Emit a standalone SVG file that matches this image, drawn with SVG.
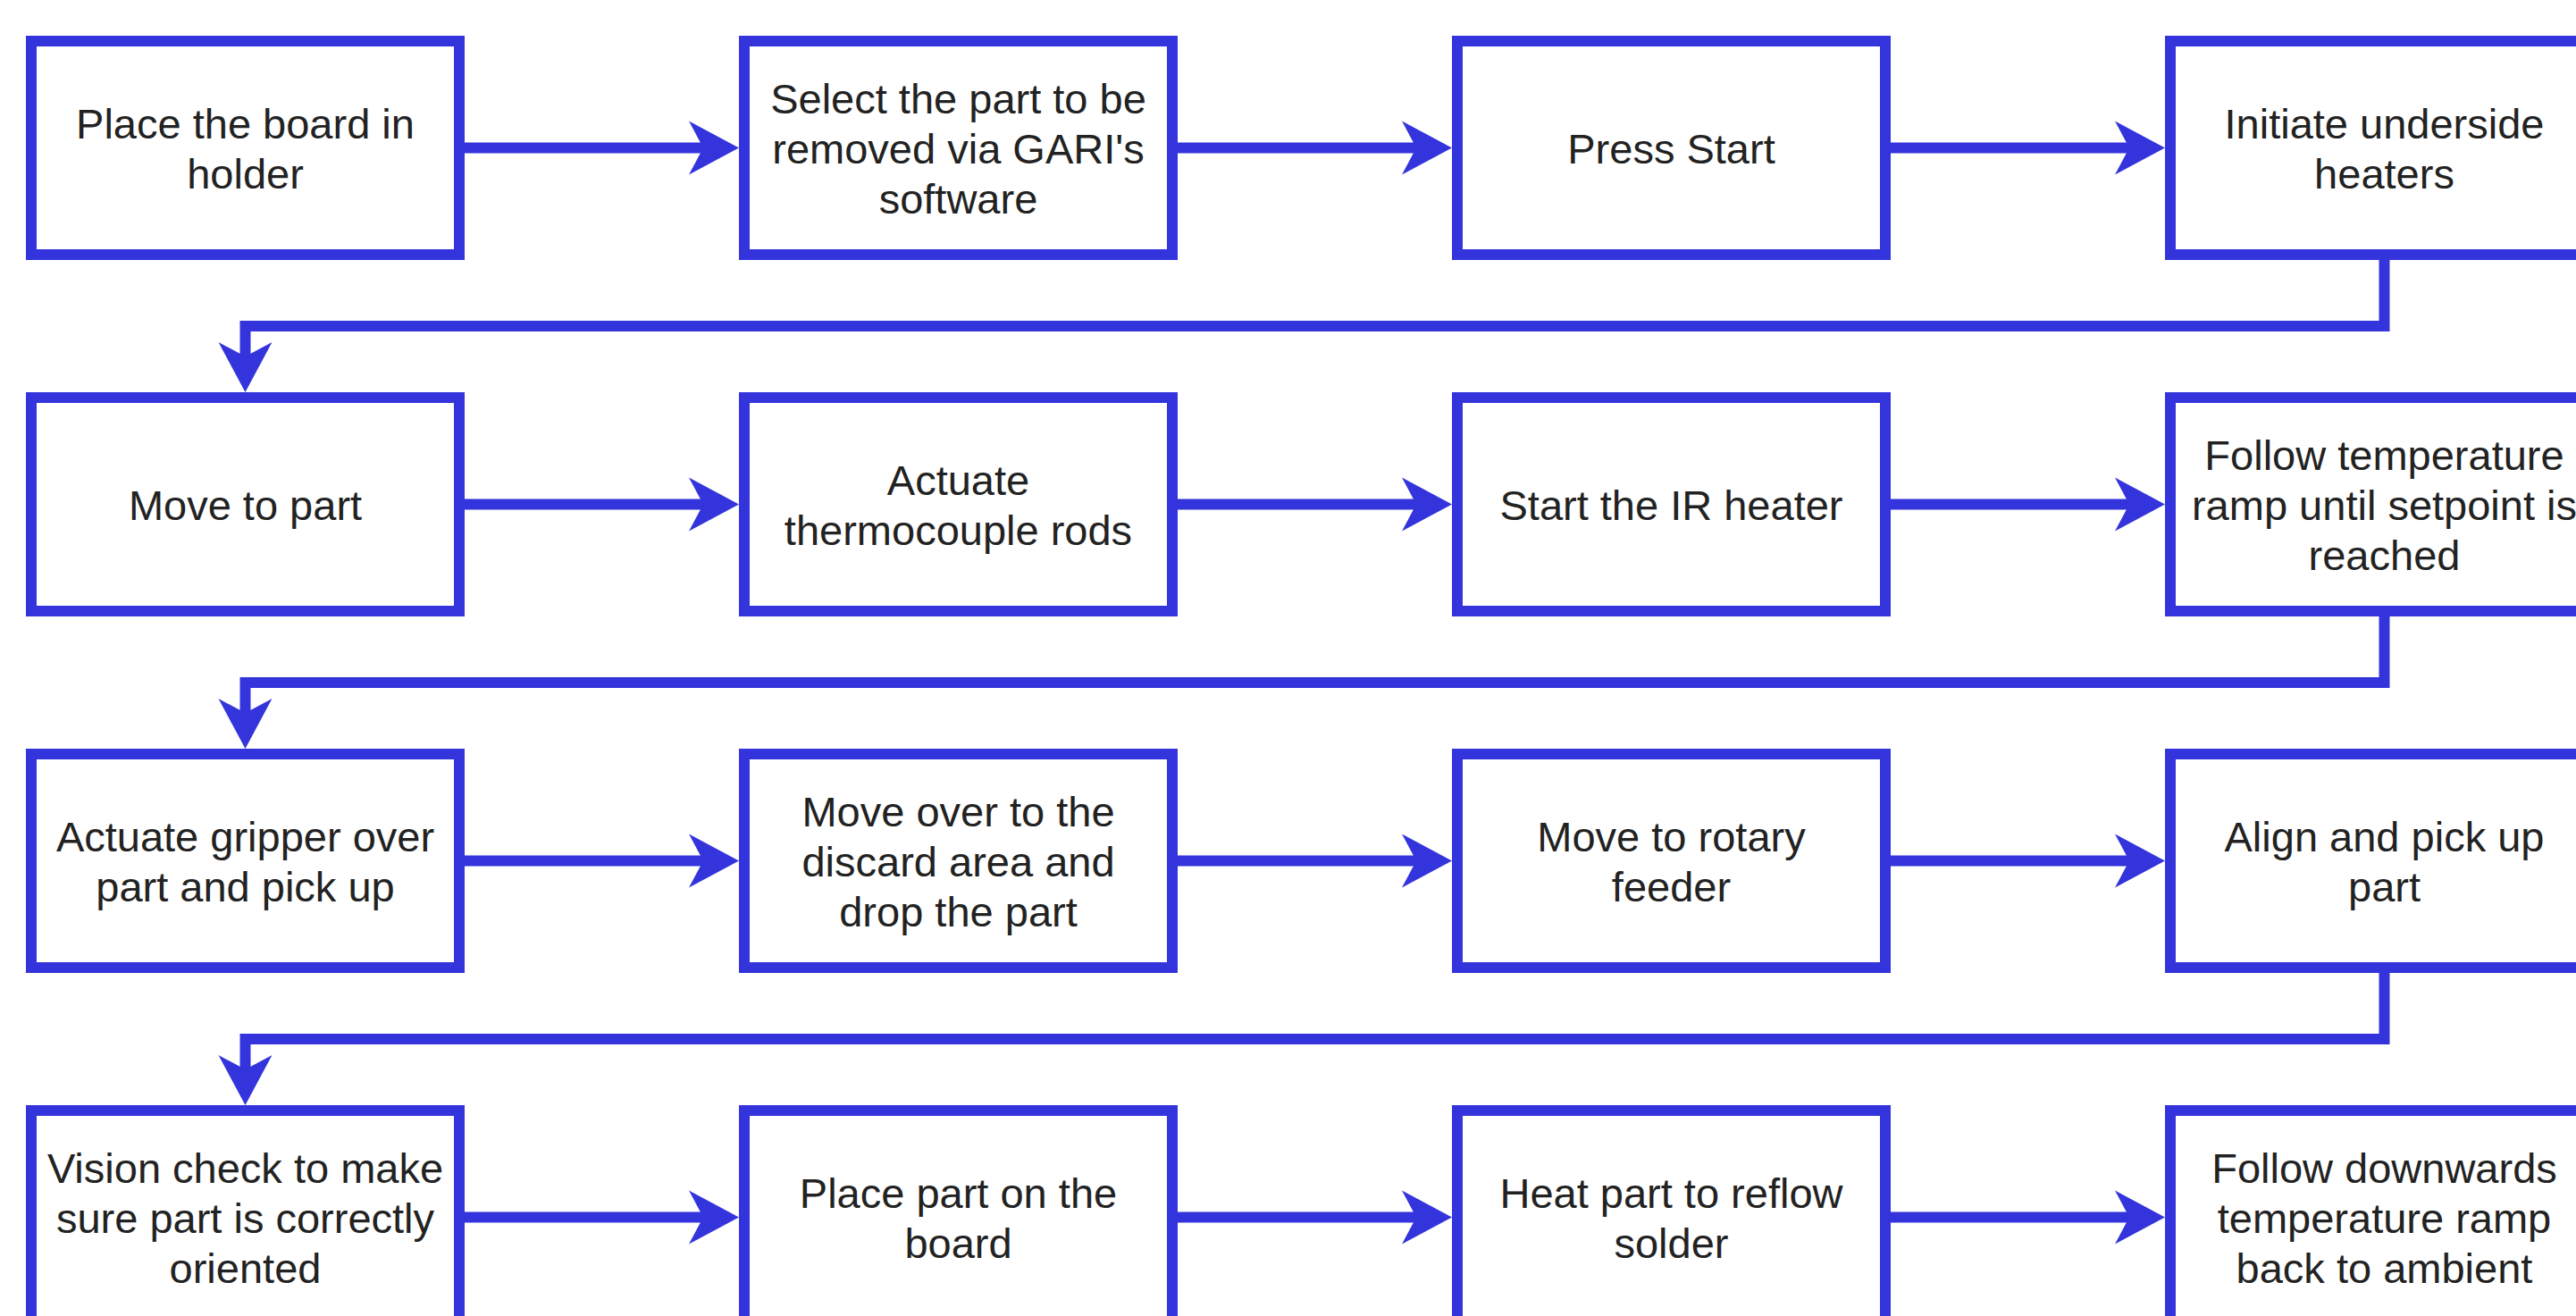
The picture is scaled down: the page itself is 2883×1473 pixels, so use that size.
<svg xmlns="http://www.w3.org/2000/svg" width="2883" height="1473" viewBox="0 0 2883 1473">
<style>
.box{fill:#ffffff;stroke:#3434DC;stroke-width:12}
.ln{fill:none;stroke:#3434DC;stroke-width:12}
.ah{fill:#3434DC;stroke:none}
text{font-family:"Liberation Sans",Arial,sans-serif;font-size:47px;fill:#222;text-anchor:middle}
</style>
<defs>
<path id="ar" class="ah" d="M0,0 L-56,-30 L-40,0 L-56,30 Z"/>
<path id="ad" class="ah" d="M0,0 L-30,-56 L0,-40 L30,-56 Z"/>
</defs>
<rect width="2883" height="1473" fill="#ffffff"/>
<g id="connectors">
<line class="ln" x1="520" y1="165.5" x2="790" y2="165.5"/><use href="#ar" x="827" y="165.5"/>
<line class="ln" x1="1318" y1="165.5" x2="1588" y2="165.5"/><use href="#ar" x="1625" y="165.5"/>
<line class="ln" x1="2116" y1="165.5" x2="2386" y2="165.5"/><use href="#ar" x="2423" y="165.5"/>
<path class="ln" d="M2668.5,291 V365 H274.5 V400"/><use href="#ad" x="274.5" y="439"/>
<line class="ln" x1="520" y1="564.5" x2="790" y2="564.5"/><use href="#ar" x="827" y="564.5"/>
<line class="ln" x1="1318" y1="564.5" x2="1588" y2="564.5"/><use href="#ar" x="1625" y="564.5"/>
<line class="ln" x1="2116" y1="564.5" x2="2386" y2="564.5"/><use href="#ar" x="2423" y="564.5"/>
<path class="ln" d="M2668.5,690 V764 H274.5 V799"/><use href="#ad" x="274.5" y="838"/>
<line class="ln" x1="520" y1="963.5" x2="790" y2="963.5"/><use href="#ar" x="827" y="963.5"/>
<line class="ln" x1="1318" y1="963.5" x2="1588" y2="963.5"/><use href="#ar" x="1625" y="963.5"/>
<line class="ln" x1="2116" y1="963.5" x2="2386" y2="963.5"/><use href="#ar" x="2423" y="963.5"/>
<path class="ln" d="M2668.5,1089 V1163 H274.5 V1198"/><use href="#ad" x="274.5" y="1237"/>
<line class="ln" x1="520" y1="1362.5" x2="790" y2="1362.5"/><use href="#ar" x="827" y="1362.5"/>
<line class="ln" x1="1318" y1="1362.5" x2="1588" y2="1362.5"/><use href="#ar" x="1625" y="1362.5"/>
<line class="ln" x1="2116" y1="1362.5" x2="2386" y2="1362.5"/><use href="#ar" x="2423" y="1362.5"/>
</g>
<g id="n1"><rect class="box" x="35" y="46" width="479" height="239"/><text x="274.5" y="154.5">Place the board in</text><text x="274.5" y="210.5">holder</text></g>
<g id="n2"><rect class="box" x="833" y="46" width="479" height="239"/><text x="1072.5" y="126.5">Select the part to be</text><text x="1072.5" y="182.5">removed via GARI's</text><text x="1072.5" y="238.5">software</text></g>
<g id="n3"><rect class="box" x="1631" y="46" width="479" height="239"/><text x="1870.5" y="182.5">Press Start</text></g>
<g id="n4"><rect class="box" x="2429" y="46" width="479" height="239"/><text x="2668.5" y="154.5">Initiate underside</text><text x="2668.5" y="210.5">heaters</text></g>

<g id="n5"><rect class="box" x="35" y="445" width="479" height="239"/><text x="274.5" y="581.5">Move to part</text></g>
<g id="n6"><rect class="box" x="833" y="445" width="479" height="239"/><text x="1072.5" y="553.5">Actuate</text><text x="1072.5" y="609.5">thermocouple rods</text></g>
<g id="n7"><rect class="box" x="1631" y="445" width="479" height="239"/><text x="1870.5" y="581.5">Start the IR heater</text></g>
<g id="n8"><rect class="box" x="2429" y="445" width="479" height="239"/><text x="2668.5" y="525.5">Follow temperature</text><text x="2668.5" y="581.5">ramp until setpoint is</text><text x="2668.5" y="637.5">reached</text></g>

<g id="n9"><rect class="box" x="35" y="844" width="479" height="239"/><text x="274.5" y="952.5">Actuate gripper over</text><text x="274.5" y="1008.5">part and pick up</text></g>
<g id="n10"><rect class="box" x="833" y="844" width="479" height="239"/><text x="1072.5" y="924.5">Move over to the</text><text x="1072.5" y="980.5">discard area and</text><text x="1072.5" y="1036.5">drop the part</text></g>
<g id="n11"><rect class="box" x="1631" y="844" width="479" height="239"/><text x="1870.5" y="952.5">Move to rotary</text><text x="1870.5" y="1008.5">feeder</text></g>
<g id="n12"><rect class="box" x="2429" y="844" width="479" height="239"/><text x="2668.5" y="952.5">Align and pick up</text><text x="2668.5" y="1008.5">part</text></g>

<g id="n13"><rect class="box" x="35" y="1243" width="479" height="239"/><text x="274.5" y="1323.5">Vision check to make</text><text x="274.5" y="1379.5">sure part is correctly</text><text x="274.5" y="1435.5">oriented</text></g>
<g id="n14"><rect class="box" x="833" y="1243" width="479" height="239"/><text x="1072.5" y="1351.5">Place part on the</text><text x="1072.5" y="1407.5">board</text></g>
<g id="n15"><rect class="box" x="1631" y="1243" width="479" height="239"/><text x="1870.5" y="1351.5">Heat part to reflow</text><text x="1870.5" y="1407.5">solder</text></g>
<g id="n16"><rect class="box" x="2429" y="1243" width="479" height="239"/><text x="2668.5" y="1323.5">Follow downwards</text><text x="2668.5" y="1379.5">temperature ramp</text><text x="2668.5" y="1435.5">back to ambient</text></g>
</svg>
